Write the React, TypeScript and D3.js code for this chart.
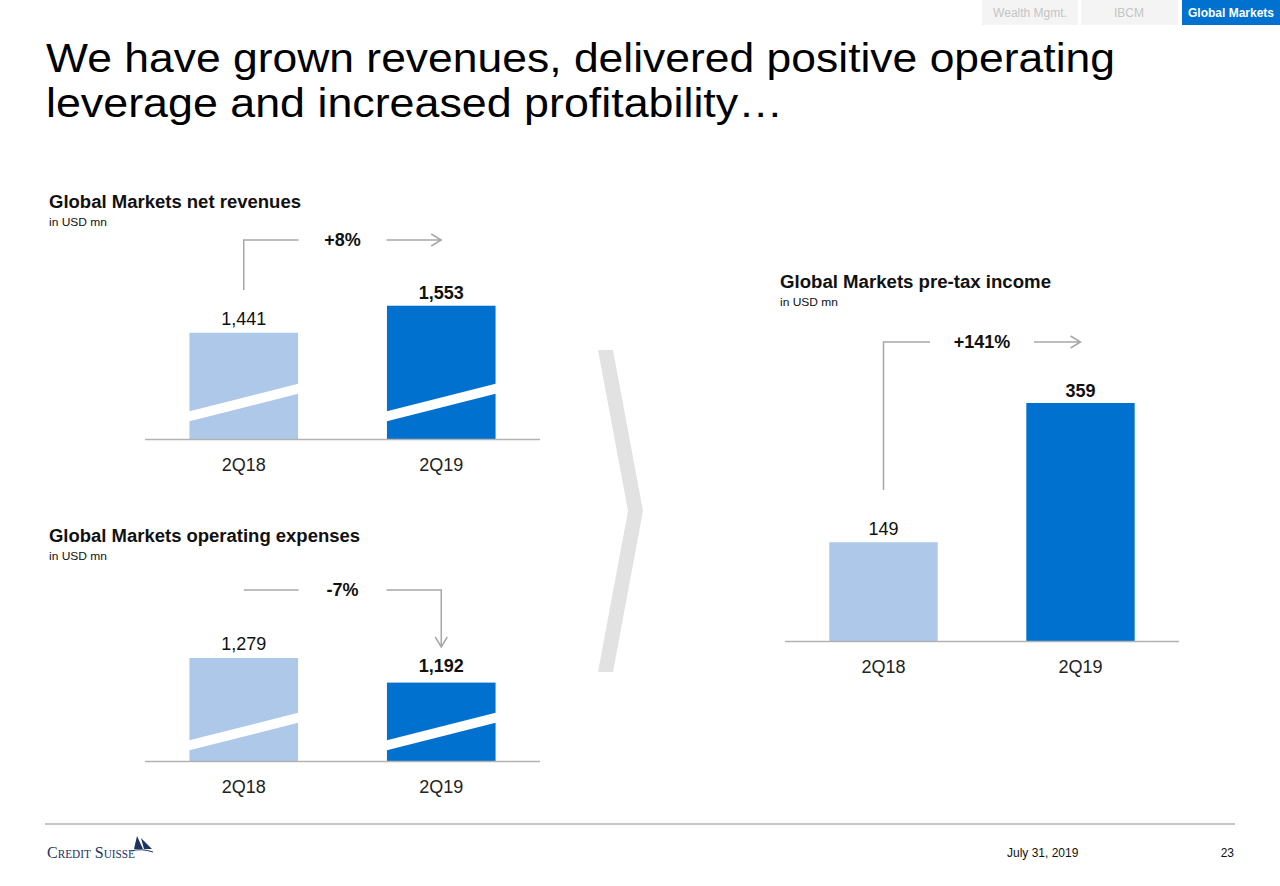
import React from "react";
import * as d3 from "d3";

const categories = ["2Q18", "2Q19"];
const revenues = [1441, 1553];
const opex = [1279, 1192];
const pretax = [149, 359];
const revChange = "+8%";
const opexChange = "-7%";
const pretaxChange = "+141%";

const LIGHT = "#adc8e8";
const DARK = "#0071ce";
const AXIS = "#b3b3b3";
const ANN = "#a8a8a8";
const FONT = "'Liberation Sans', Arial, Helvetica, sans-serif";
const fmt = d3.format(",");

type PanelProps = {
  values: number[];
  x0: number;
  x1: number;
  baseline: number;
  domain: [number, number];
  top: number;
  brk?: { left: number; rise: number; thick: number };
  bracketY: number;
  leftDrop?: number;
  halfGap: number;
  rightDown?: number;
  change: string;
  labelGap: number[];
};

function Panel(p: PanelProps) {
  const x = d3.scaleBand<string>().domain(categories).range([p.x0, p.x1]).paddingInner(0.45).paddingOuter(0.225);
  const y = d3.scaleLinear().domain(p.domain).range([p.baseline, p.top]);
  const bw = x.bandwidth();
  const c0 = (x(categories[0]) as number) + bw / 2;
  const c1 = (x(categories[1]) as number) + bw / 2;
  const mid = (c0 + c1) / 2;
  const ay = p.bracketY;
  return (
    <g>
      {p.values.map((v, i) => {
        const bx = x(categories[i]) as number;
        const by = y(v);
        return (
          <g key={i}>
            <rect x={bx} y={by} width={bw} height={p.baseline - by} fill={i === 0 ? LIGHT : DARK} />
            {p.brk && (
              <polygon
                fill="#ffffff"
                points={[
                  [bx - 1, p.baseline - p.brk.left],
                  [bx + bw + 1, p.baseline - p.brk.left - p.brk.rise],
                  [bx + bw + 1, p.baseline - p.brk.left - p.brk.rise + p.brk.thick],
                  [bx - 1, p.baseline - p.brk.left + p.brk.thick],
                ]
                  .map((q) => q.join(","))
                  .join(" ")}
              />
            )}
            <text
              x={bx + bw / 2}
              y={by - p.labelGap[i]}
              textAnchor="middle"
              fontFamily={FONT}
              fontSize={18}
              fontWeight={i === 1 ? "bold" : "normal"}
              fill="#111"
            >
              {fmt(v)}
            </text>
            <text x={bx + bw / 2} y={p.baseline + 32} textAnchor="middle" fontFamily={FONT} fontSize={18} fill="#222">
              {categories[i]}
            </text>
          </g>
        );
      })}
      <line x1={p.x0} x2={p.x1} y1={p.baseline + 0.5} y2={p.baseline + 0.5} stroke={AXIS} strokeWidth={1.5} />
      <path
        d={
          (p.leftDrop !== undefined ? `M${c0},${p.leftDrop}L${c0},${ay}` : `M${c0},${ay}`) +
          `L${mid - p.halfGap},${ay}`
        }
        fill="none"
        stroke={ANN}
        strokeWidth={1.5}
      />
      <text x={mid} y={ay + 6} textAnchor="middle" fontFamily={FONT} fontSize={18} fontWeight="bold" fill="#111">
        {p.change}
      </text>
      {p.rightDown !== undefined ? (
        <path
          d={`M${mid + p.halfGap},${ay}L${c1},${ay}L${c1},${p.rightDown}M${c1 - 6},${p.rightDown - 10}L${c1},${p.rightDown}L${c1 + 6},${p.rightDown - 10}`}
          fill="none"
          stroke={ANN}
          strokeWidth={1.5}
        />
      ) : (
        <path
          d={`M${mid + p.halfGap},${ay}L${c1},${ay}M${c1 - 10},${ay - 6}L${c1},${ay}L${c1 - 10},${ay + 6}`}
          fill="none"
          stroke={ANN}
          strokeWidth={1.5}
        />
      )}
    </g>
  );
}

function Title({ x, y, text, w }: { x: number; y: number; text: string; w: number }) {
  return (
    <g>
      <text x={x} y={y} fontFamily={FONT} fontSize={17.5} fontWeight="bold" fill="#111" textLength={w} lengthAdjust="spacingAndGlyphs">
        {text}
      </text>
      <text x={x} y={y + 17.5} fontFamily={FONT} fontSize={11.5} fill="#111" textLength={58} lengthAdjust="spacingAndGlyphs">
        in USD mn
      </text>
    </g>
  );
}

export default function App() {
  return (
    <svg width={1280} height={886} style={{ position: "absolute", left: 0, top: 0, display: "block", background: "#fff" }}>
      <rect width={1280} height={886} fill="#fff" />
      {/* tabs */}
      <rect x={982} y={0} width={96} height={25} fill="#f4f4f4" />
      <text x={1030} y={17} textAnchor="middle" fontFamily={FONT} fontSize={12} fill="#c4c4c4">Wealth Mgmt.</text>
      <rect x={1081} y={0} width={97} height={25} fill="#f4f4f4" />
      <text x={1129} y={17} textAnchor="middle" fontFamily={FONT} fontSize={12} fill="#c4c4c4">IBCM</text>
      <rect x={1182} y={0} width={98} height={25} fill={DARK} />
      <text x={1231} y={17} textAnchor="middle" fontFamily={FONT} fontSize={12} fontWeight="bold" fill="#fff">Global Markets</text>

      {/* headline */}
      <text x={46} y={72} fontFamily={FONT} fontSize={41} fill="#000" textLength={1069} lengthAdjust="spacingAndGlyphs">
        We have grown revenues, delivered positive operating
      </text>
      <text x={46} y={117} fontFamily={FONT} fontSize={41} fill="#000" textLength={737} lengthAdjust="spacingAndGlyphs">
        leverage and increased profitability…
      </text>

      <Title x={49} y={208} w={252} text="Global Markets net revenues" />
      <Panel
        values={revenues}
        x0={145}
        x1={540}
        baseline={439}
        domain={[1000, 1600]}
        top={439 - 0.241 * 600}
        brk={{ left: 27.5, rise: 28, thick: 10 }}
        bracketY={240}
        leftDrop={290}
        halfGap={44}
        change={revChange}
        labelGap={[8, 6.5]}
      />

      <Title x={49} y={542} w={311} text="Global Markets operating expenses" />
      <Panel
        values={opex}
        x0={145}
        x1={540}
        baseline={761}
        domain={[915, 1300]}
        top={761 - 0.283 * 385}
        brk={{ left: 20.5, rise: 28, thick: 10 }}
        bracketY={590}
        halfGap={44}
        rightDown={647}
        change={opexChange}
        labelGap={[8, 10.5]}
      />

      {/* chevron */}
      <polygon points="598,350 613,350 643,511 613,672 598,672 628,511" fill="#e2e2e2" />

      <Title x={780} y={288} w={271} text="Global Markets pre-tax income" />
      <Panel
        values={pretax}
        x0={785}
        x1={1179}
        baseline={641}
        domain={[0, 400]}
        top={641 - 0.663 * 400}
        bracketY={342}
        leftDrop={490}
        halfGap={52}
        change={pretaxChange}
        labelGap={[7, 6]}
      />

      {/* footer */}
      <line x1={45} x2={1235} y1={824} y2={824} stroke="#b5b5b5" strokeWidth={1.5} />
      <text x={47} y={858} fontFamily="'Liberation Serif', 'Times New Roman', serif" fontSize={17} fill="#1d3461" style={{ fontVariant: "small-caps" }} textLength={88} lengthAdjust="spacingAndGlyphs">
        Credit Suisse
      </text>
      <path d="M137,836 L143,849 L134,849 Z M141,838 L152,849 L144,849 Z" fill="#1d3461" />
      <path d="M131,851 Q141,848 153,852" fill="none" stroke="#1d3461" strokeWidth={1} />
      <text x={1007} y={857} fontFamily={FONT} fontSize={12} fill="#111">July 31, 2019</text>
      <text x={1234} y={857} textAnchor="end" fontFamily={FONT} fontSize={12} fill="#111">23</text>
    </svg>
  );
}
